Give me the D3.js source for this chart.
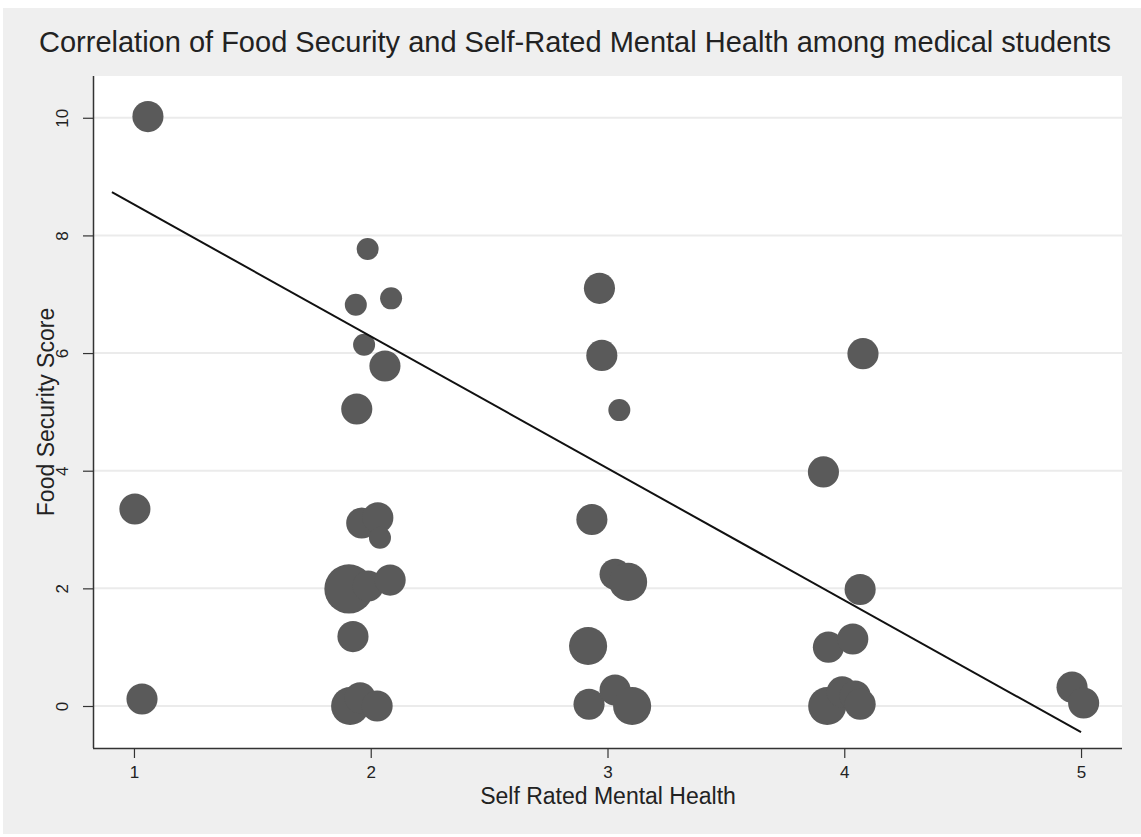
<!DOCTYPE html>
<html>
<head>
<meta charset="utf-8">
<script src="https://cdn.jsdelivr.net/npm/d3@7"></script>
<style>
  body { margin: 0; background: #fff; }
  svg { display: block; font-family: "Liberation Sans", Arial, sans-serif; }
</style>
</head>
<body>
<div id="chart"></div>
<script>
// self rated mental health (jittered), food security score (jittered), frequency weight
const mentalHealth = [1.059, 1.004, 1.034,
    1.987, 1.937, 2.086, 1.972, 2.060, 1.941, 1.962, 2.030, 2.039, 1.908, 1.989, 2.082, 1.925, 1.913, 1.955, 2.027,
    2.966, 2.976, 3.050, 2.934, 3.032, 3.087, 2.918, 2.922, 3.032, 3.104,
    4.079, 3.912, 4.067, 3.933, 4.036, 3.928, 3.991, 4.046, 4.067,
    4.962, 5.011]
const foodScore = [10.02, 3.35, 0.12,
    7.77, 6.82, 6.93, 6.14, 5.78, 5.05, 3.11, 3.20, 2.86, 1.99, 2.04, 2.14, 1.18, 0.00, 0.14, 0.00,
    7.10, 5.96, 5.03, 3.17, 2.24, 2.11, 1.02, 0.03, 0.27, 0.00,
    5.99, 3.98, 1.98, 1.00, 1.14, 0.00, 0.24, 0.17, 0.03,
    0.32, 0.05]
const weight = [2, 2, 2,
    1, 1, 1, 1, 2, 2, 2, 2, 1, 5, 2, 2, 2, 3, 2, 2,
    2, 2, 1, 2, 2, 3, 3, 2, 2, 3,
    2, 2, 2, 2, 2, 3, 2, 2, 2,
    2, 2]

// linear fit: y = a + b x
const fitIntercept = 10.77
const fitSlope = -2.243
const fitRange = [0.907, 5.0]

const xTicks = [1, 2, 3, 4, 5]
const yTicks = [0, 2, 4, 6, 8, 10]

const title = "Correlation of Food Security and Self-Rated Mental Health among medical students"
const xTitle = "Self Rated Mental Health"
const yTitle = "Food Security Score"

const W = 1141, H = 837
const margin = { top: 76, right: 19, bottom: 89, left: 93 }

const points = mentalHealth.map((x, i) => ({ x: x, y: foodScore[i], n: weight[i] }))

const svg = d3.select("#chart").append("svg")
    .attr("width", W)
    .attr("height", H)

svg.append("rect")
    .attr("x", 3).attr("y", 8)
    .attr("width", W - 3).attr("height", H - 11)
    .attr("fill", "#efefef")

const width = W - margin.left - margin.right
const height = H - margin.top - margin.bottom

const xScale = d3.scaleLinear()
    .domain([0.827, 5.173])
    .range([margin.left, margin.left + width])
const yScale = d3.scaleLinear()
    .domain([-0.714, 10.71])
    .range([margin.top + height, margin.top])
const rScale = d3.scaleSqrt()
    .domain([0, 1])
    .range([0, 11])

svg.append("rect")
    .attr("x", margin.left).attr("y", margin.top)
    .attr("width", width).attr("height", height)
    .attr("fill", "#fff")

// gridlines
svg.append("g")
    .selectAll("line")
    .data(yTicks)
    .enter()
    .append("line")
    .attr("x1", margin.left).attr("x2", margin.left + width)
    .attr("y1", d => yScale(d)).attr("y2", d => yScale(d))
    .attr("stroke", "#ebebeb")
    .attr("stroke-width", 2)

// markers
svg.append("g")
    .selectAll("circle")
    .data(points)
    .enter()
    .append("circle")
    .attr("cx", d => xScale(d.x))
    .attr("cy", d => yScale(d.y))
    .attr("r", d => rScale(d.n))
    .attr("fill", "#5a5a5a")

// fitted line
svg.append("line")
    .attr("x1", xScale(fitRange[0]))
    .attr("y1", yScale(fitIntercept + fitSlope * fitRange[0]))
    .attr("x2", xScale(fitRange[1]))
    .attr("y2", yScale(fitIntercept + fitSlope * fitRange[1]))
    .attr("stroke", "#111")
    .attr("stroke-width", 2)

// axes
const xAxis = svg.append("g")
    .attr("transform", "translate(0," + (margin.top + height) + ")")
    .call(d3.axisBottom(xScale).tickValues(xTicks).tickSize(10).tickPadding(8).tickFormat(d3.format("d")))
const yAxis = svg.append("g")
    .attr("transform", "translate(" + margin.left + ",0)")
    .call(d3.axisLeft(yScale).tickValues(yTicks).tickSize(10).tickPadding(8).tickFormat(d3.format("d")))

svg.selectAll(".domain").attr("stroke", "#333").attr("stroke-width", 1.5)
svg.selectAll(".tick line").attr("stroke", "#333").attr("stroke-width", 1.2)
svg.selectAll(".tick text")
    .attr("fill", "#222")
    .style("font-size", "17px")
    .style("font-family", "'Liberation Sans', Arial, sans-serif")
xAxis.select(".domain").attr("d", "M" + margin.left + ",0.5H" + (margin.left + width))
yAxis.select(".domain").attr("d", "M0.5," + margin.top + "V" + (margin.top + height))

yAxis.selectAll(".tick text")
    .attr("x", 0).attr("dy", 0)
    .attr("text-anchor", "middle")
    .attr("transform", "translate(-25,0) rotate(-90)")

svg.append("text")
    .attr("x", 575).attr("y", 52)
    .attr("text-anchor", "middle")
    .attr("fill", "#222")
    .style("font-size", "29px")
    .text(title)

svg.append("text")
    .attr("x", 608).attr("y", 804)
    .attr("text-anchor", "middle")
    .attr("fill", "#222")
    .style("font-size", "23px")
    .text(xTitle)

svg.append("text")
    .attr("transform", "translate(54," + 412 + ") rotate(-90)")
    .attr("text-anchor", "middle")
    .attr("fill", "#222")
    .style("font-size", "23px")
    .text(yTitle)
</script>
</body>
</html>
